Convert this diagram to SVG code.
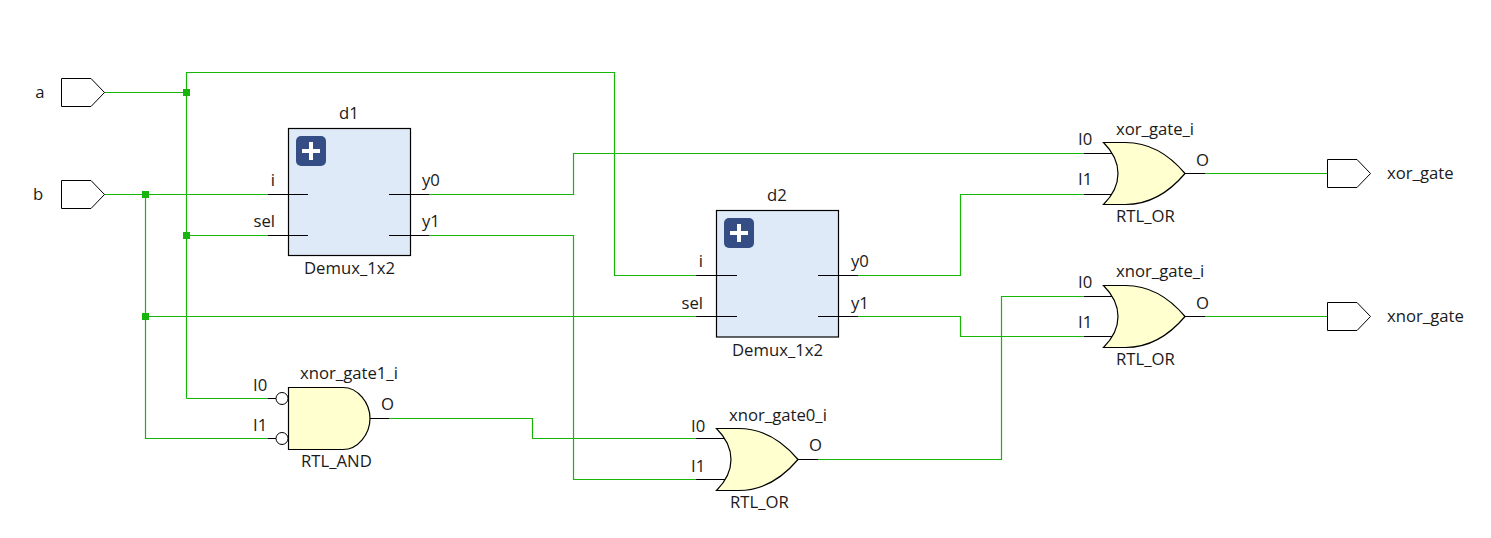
<svg xmlns="http://www.w3.org/2000/svg" width="1491" height="538" viewBox="0 0 1491 538">
<style>
text{font-family:"Open Sans","Noto Sans","Liberation Sans",sans-serif;font-size:16.700px;fill:#1a1a1a}
.m{text-anchor:middle}.e{text-anchor:end}
.w{fill:none;stroke:#17b50a;stroke-width:1.2}
.p{fill:none;stroke:#000;stroke-width:1.2}
.port{fill:#fff;stroke:#000;stroke-width:1}
.box{fill:#deeaf8;stroke:#000;stroke-width:1.2}
.gate{fill:#ffffcf;stroke:#000;stroke-width:1.2}
.btn{fill:#344e85}
.plus{fill:#fff}
.j{fill:#17b50a}
</style>
<defs>
<path id="port" class="port" d="M0 0H29.500L43 14L29.500 28H0Z"/>
<path id="or" class="gate" d="M0 0H22C48 0 68 15 81.500 31C68 47 48 62 22 62H0C10 52 14.500 42 14.500 31C14.500 20 10 10 0 0Z"/>
<g id="plus"><rect class="btn" width="30" height="30" rx="5"/><path class="plus" d="M13 6H17V13H24V17H17V24H13V17H6V13H13Z"/></g>
</defs>
<g id="connectors">
<path class="w" d="M104 92.500H186.500M186.500 398.500V72.500H614.500V275.500H696.500M186.500 398.500H268M186.500 235.500H268"/>
<path class="w" d="M104 194.500H268M145.500 194.500V438.500H268M145.500 316.500H696.500"/>
<path class="w" d="M429 194.500H573.500V153.500H1084M429 235.500H573.500V479.500H696"/>
<path class="w" d="M858 275.500H960.500V194.500H1084M858 316.500H960.500V336.500H1084"/>
<path class="w" d="M389 418.500H532.500V438.500H696M818 459.500H1001.500V296.500H1084"/>
<path class="w" d="M1205 173.500H1327.500M1205 316.500H1327.500"/>
<rect class="j" x="183" y="89" width="7" height="7"/>
<rect class="j" x="183" y="232" width="7" height="7"/>
<rect class="j" x="142" y="191" width="7" height="7"/>
<rect class="j" x="142" y="313" width="7" height="7"/>
</g>
<g id="a"><use href="#port" x="61.500" y="78.500"/><text class="m" x="40" y="98">a</text></g>
<g id="b"><use href="#port" x="61.500" y="180.500"/><text class="m" x="38" y="200">b</text></g>
<g id="xor_gate"><use href="#port" x="1327.500" y="159.500"/><text x="1387" y="179">xor_gate</text></g>
<g id="xnor_gate"><use href="#port" x="1327.500" y="302.500"/><text x="1387" y="322">xnor_gate</text></g>
<g id="d1">
<rect class="box" x="288.500" y="128.500" width="122" height="127"/>
<use href="#plus" x="296" y="136"/>
<path class="p" d="M268 194.500H308M268 235.500H308M389 194.500H429M389 235.500H429"/>
<text class="m" x="349" y="119">d1</text>
<text class="e" x="275" y="186">i</text>
<text class="e" x="275" y="227">sel</text>
<text x="422" y="186">y0</text>
<text x="422" y="227">y1</text>
<text class="m" x="349.500" y="274">Demux_1x2</text>
</g>
<g id="d2">
<rect class="box" x="716.500" y="210.500" width="122" height="126.500"/>
<use href="#plus" x="724" y="218"/>
<path class="p" d="M696 275.500H737M696 316.500H737M818 275.500H858M818 316.500H858"/>
<text class="m" x="777" y="201">d2</text>
<text class="e" x="703" y="267">i</text>
<text class="e" x="703" y="309">sel</text>
<text x="851" y="267">y0</text>
<text x="851" y="309">y1</text>
<text class="m" x="777.500" y="356">Demux_1x2</text>
</g>
<g id="xnor_gate1_i">
<path class="gate" d="M288.500 387.500H343C358 387.500 370 403 370 418.500C370 434 358 449.500 343 449.500H288.500Z"/>
<circle class="port" cx="282" cy="398.500" r="6"/>
<circle class="port" cx="282" cy="438.500" r="6"/>
<path class="p" d="M268 398.500H276M268 438.500H276M370 418.500H389"/>
<text x="253" y="391">I0</text>
<text x="253" y="431">I1</text>
<text x="381" y="410">O</text>
<text x="300" y="379">xnor_gate1_i</text>
<text x="301" y="467">RTL_AND</text>
</g>
<g id="xnor_gate0_i">
<use href="#or" x="716.500" y="428.500"/>
<path class="p" d="M696 438.500H725M696 479.500H725M798 459.500H818"/>
<text x="691" y="432">I0</text>
<text x="691" y="472">I1</text>
<text x="809" y="451">O</text>
<text x="729" y="421">xnor_gate0_i</text>
<text x="730" y="508">RTL_OR</text>
</g>
<g id="xor_gate_i">
<use href="#or" x="1103.500" y="142.500"/>
<path class="p" d="M1084 153.500H1112M1084 194.500H1112M1185 173.500H1205"/>
<text x="1078" y="145">I0</text>
<text x="1078" y="185">I1</text>
<text x="1196" y="166">O</text>
<text x="1116" y="135">xor_gate_i</text>
<text x="1116" y="222">RTL_OR</text>
</g>
<g id="xnor_gate_i">
<use href="#or" x="1103.500" y="285.500"/>
<path class="p" d="M1084 296.500H1112M1084 336.500H1112M1185 316.500H1205"/>
<text x="1078" y="288">I0</text>
<text x="1078" y="328">I1</text>
<text x="1196" y="309">O</text>
<text x="1116" y="277">xnor_gate_i</text>
<text x="1116" y="365">RTL_OR</text>
</g>
</svg>
